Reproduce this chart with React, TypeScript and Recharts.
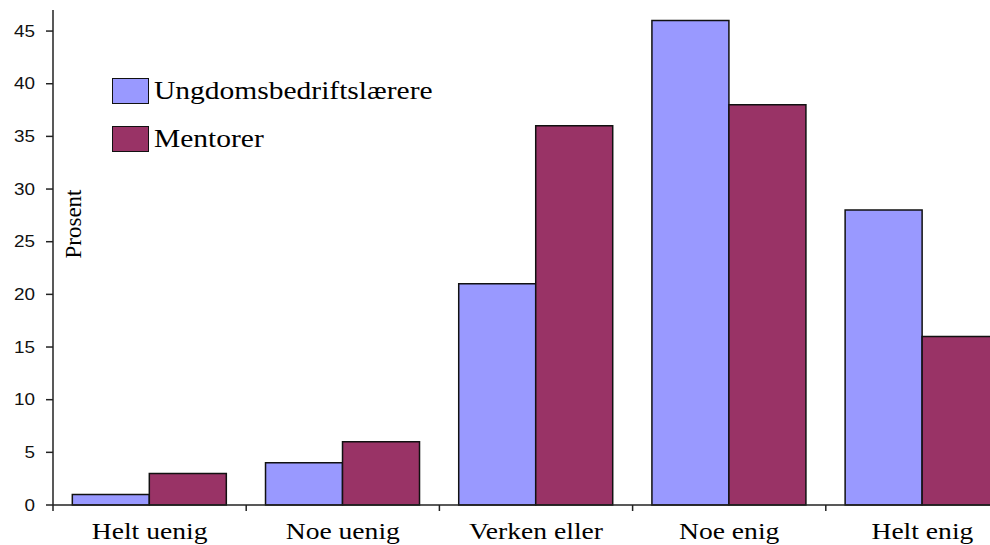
import React from 'react';
import { BarChart, Bar, XAxis, YAxis } from 'recharts';

const categories = ['Helt uenig', 'Noe uenig', 'Verken eller', 'Noe enig', 'Helt enig'];
const ungdom = [1, 4, 21, 46, 28];
const mentorer = [3, 6, 36, 38, 16];
const yTicks = [0, 5, 10, 15, 20, 25, 30, 35, 40, 45];
const seriesNames = ['Ungdomsbedriftslærere', 'Mentorer'];

const data = categories.map((c, i) => ({ cat: c, ungdom: ungdom[i], mentorer: mentorer[i] }));

const BLUE = '#9999ff';
const RED = '#993366';
const SERIF = '"Times New Roman", "Liberation Serif", serif';
const SANS = 'Arial, "Liberation Sans", sans-serif';

const W = 1030;
const H = 545;
const LEFT = 53;
const RIGHT_M = 11;
const BAND = (W - LEFT - RIGHT_M) / categories.length;

if (typeof document !== 'undefined') {
  document.body.style.margin = '0';
  document.body.style.overflow = 'hidden';
}

function XTick(props: any) {
  const { x, y, payload, index } = props;
  return (
    <g>
      <line x1={x - BAND / 2} x2={x - BAND / 2} y1={y} y2={y + 6} stroke="#222" strokeWidth={1.5} />
      {index === categories.length - 1 && (
        <line x1={x + BAND / 2} x2={x + BAND / 2} y1={y} y2={y + 6} stroke="#222" strokeWidth={1.5} />
      )}
      <text
        transform={`translate(${x},${y + 34}) scale(1.2,1)`}
        textAnchor="middle"
        fontFamily={SERIF}
        fontSize={23}
        fill="#000"
      >
        {payload.value}
      </text>
    </g>
  );
}

function YTick(props: any) {
  const { x, y, payload } = props;
  return (
    <text
      transform={`translate(${x},${y}) scale(1.18,1)`}
      textAnchor="end"
      dy="0.36em"
      fontFamily={SANS}
      fontSize={16}
      fill="#111"
    >
      {payload.value}
    </text>
  );
}

function LegendBox() {
  const colors = [BLUE, RED];
  return (
    <div style={{ position: 'absolute', left: 112, top: 77 }}>
      {seriesNames.map((name, i) => (
        <div key={name} style={{ display: 'flex', alignItems: 'center', height: 27, marginBottom: i === 0 ? 21 : 0 }}>
          <div style={{ width: 35, height: 24, background: colors[i], border: '1.5px solid #111' }} />
          <div
            style={{
              fontFamily: SERIF,
              fontSize: 25,
              color: '#000',
              marginLeft: 5,
              transform: 'scaleX(1.18)',
              transformOrigin: 'left center',
              whiteSpace: 'nowrap',
              lineHeight: '27px',
            }}
          >
            {name}
          </div>
        </div>
      ))}
    </div>
  );
}

function ProsentLabel() {
  return (
    <text transform="translate(81,224) rotate(-90)" textAnchor="middle" fontFamily={SERIF} fontSize={23} fill="#000">
      Prosent
    </text>
  );
}

export default function App() {
  return (
    <div style={{ width: 990, height: 545, overflow: 'hidden', background: '#fff', position: 'relative' }}>
      <BarChart
        width={W}
        height={H}
        data={data}
        margin={{ top: 10, right: RIGHT_M, bottom: 0, left: 0 }}
        barCategoryGap="10%"
        barGap={0}
      >
        <XAxis
          dataKey="cat"
          height={40}
          tickSize={0}
          tickMargin={0}
          tickLine={false}
          axisLine={{ stroke: '#222', strokeWidth: 1.5 }}
          tick={<XTick />}
          interval={0}
        />
        <YAxis
          width={LEFT}
          domain={[0, 47]}
          ticks={yTicks}
          tickSize={7}
          tickMargin={11}
          axisLine={{ stroke: '#222', strokeWidth: 1.5 }}
          tickLine={{ stroke: '#222', strokeWidth: 1.5 }}
          tick={<YTick />}
          label={{ content: () => <ProsentLabel /> }}
        />
        <Bar dataKey="ungdom" name={seriesNames[0]} fill={BLUE} stroke="#111" strokeWidth={1.5} isAnimationActive={false} />
        <Bar dataKey="mentorer" name={seriesNames[1]} fill={RED} stroke="#111" strokeWidth={1.5} isAnimationActive={false} />
      </BarChart>
      <LegendBox />
    </div>
  );
}
